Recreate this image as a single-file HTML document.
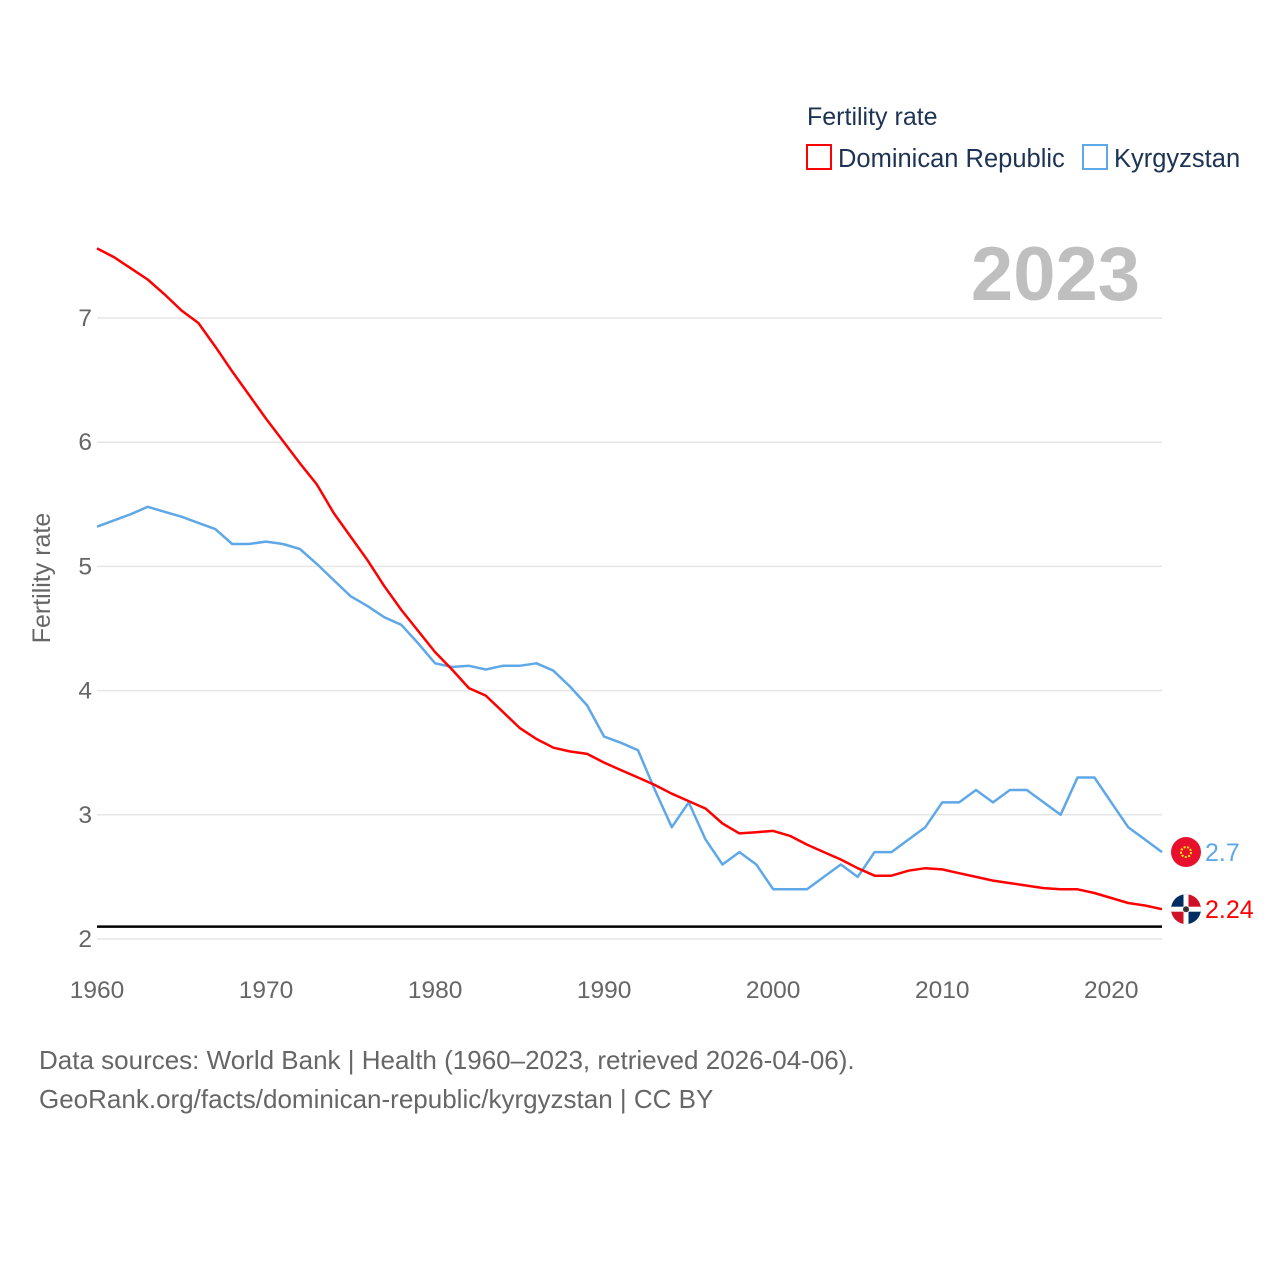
<!DOCTYPE html>
<html><head><meta charset="utf-8"><style>
html,body{margin:0;padding:0;background:#fff;}
svg text{font-family:"Liberation Sans",sans-serif;}
</style></head><body>
<svg id="chart" width="1280" height="1280" viewBox="0 0 1280 1280" xmlns="http://www.w3.org/2000/svg">
<text x="807" y="125" font-size="25" fill="#1d3354">Fertility rate</text>
<rect x="807" y="145" width="24" height="24" fill="none" stroke="#ff0000" stroke-width="2"/>
<text x="838" y="167" font-size="25.5" fill="#1d3354">Dominican Republic</text>
<rect x="1083" y="145" width="24" height="24" fill="none" stroke="#5fa8e8" stroke-width="2"/>
<text x="1114" y="167" font-size="25.5" fill="#1d3354">Kyrgyzstan</text>
<text x="1140" y="300" font-size="76" font-weight="bold" fill="#bfbfbf" text-anchor="end">2023</text>
<text transform="translate(50,578) rotate(-90)" font-size="25" fill="#666" text-anchor="middle">Fertility rate</text>
<g id="grid"></g><g id="series"></g><g id="labels"></g>
<text x="39" y="1069" font-size="26" fill="#666">Data sources: World Bank | Health (1960–2023, retrieved 2026-04-06).</text>
<text x="39" y="1108" font-size="26" fill="#666">GeoRank.org/facts/dominican-republic/kyrgyzstan | CC BY</text>
</svg>
<script>
const years = [];for(let y=1960;y<=2023;y++)years.push(y);
const dominicanRepublic = [7.56,7.49,7.40,7.31,7.19,7.06,6.96,6.77,6.57,6.38,6.19,6.01,5.83,5.66,5.43,5.24,5.05,4.84,4.65,4.48,4.31,4.17,4.02,3.96,3.83,3.70,3.61,3.54,3.51,3.49,3.42,3.36,3.30,3.24,3.17,3.11,3.05,2.93,2.85,2.86,2.87,2.83,2.76,2.70,2.64,2.57,2.51,2.51,2.55,2.57,2.56,2.53,2.50,2.47,2.45,2.43,2.41,2.40,2.40,2.37,2.33,2.29,2.27,2.24];
const kyrgyzstan = [5.32,5.37,5.42,5.48,5.44,5.40,5.35,5.30,5.18,5.18,5.20,5.18,5.14,5.02,4.89,4.76,4.68,4.59,4.53,4.38,4.22,4.19,4.20,4.17,4.20,4.20,4.22,4.16,4.03,3.88,3.63,3.58,3.52,3.20,2.90,3.10,2.80,2.60,2.70,2.60,2.40,2.40,2.40,2.50,2.60,2.50,2.70,2.70,2.80,2.90,3.10,3.10,3.20,3.10,3.20,3.20,3.10,3.00,3.30,3.30,3.10,2.90,2.80,2.70];
const yTicks = [2,3,4,5,6,7];
const xTicks = [1960,1970,1980,1990,2000,2010,2020];
const replacementLevel = 2.1;
const NS="http://www.w3.org/2000/svg";
const X0=97,X1=1162,Y7=318,Y2=939;
const xs=y=>X0+(y-1960)*(X1-X0)/63;
const ys=v=>Y2-(v-2)*(Y2-Y7)/5;
function mk(tag,parent,attrs){const e=document.createElementNS(NS,tag);for(const k in attrs)e.setAttribute(k,attrs[k]);document.getElementById(parent).appendChild(e);return e;}
yTicks.forEach(t=>{
 const l=mk('line','grid',{x1:X0,x2:X1,y1:ys(t),y2:ys(t),stroke:'#e6e6e6','stroke-width':1.5});
 
 
 const tx=mk('text','grid',{x:92,y:ys(t)+8,'font-size':24.5,fill:'#666','text-anchor':'end'});tx.textContent=t;
 
 
});
xTicks.forEach(t=>{
 const tx=mk('text','grid',{x:xs(t),y:998,'font-size':24.5,fill:'#666','text-anchor':'middle'});tx.textContent=t;
 
 
});
const ref=mk('line','grid',{x1:X0,x2:X1,y1:ys(replacementLevel),y2:ys(replacementLevel),stroke:'#000','stroke-width':2.5});


function path(vals){return vals.map((v,i)=>(i?'L':'M')+xs(years[i]).toFixed(1)+','+ys(v).toFixed(1)).join('');}
const pk=mk('path','series',{d:path(kyrgyzstan),fill:'none',stroke:'#5fa8e8','stroke-width':2.5,'stroke-linejoin':'round'});


const pd=mk('path','series',{d:path(dominicanRepublic),fill:'none',stroke:'#ff0000','stroke-width':2.5,'stroke-linejoin':'round'});


const lk=kyrgyzstan[kyrgyzstan.length-1], ld=dominicanRepublic[dominicanRepublic.length-1];
const fk=mk('circle','labels',{cx:1186,cy:ys(lk),r:15,fill:'#e8112d'});


const fks=mk('circle','labels',{cx:1186,cy:ys(lk),r:5,fill:'none',stroke:'#ffef00','stroke-width':2,'stroke-dasharray':'2 1.5'});


const g=mk('g','labels',{});


const cy=ys(ld);
g.innerHTML=`<clipPath id="cc"><circle cx="1186" cy="${cy}" r="15"/></clipPath><g clip-path="url(#cc)"><rect x="1171" y="${cy-15}" width="15" height="15" fill="#002d62"/><rect x="1186" y="${cy-15}" width="15" height="15" fill="#ce1126"/><rect x="1171" y="${cy}" width="15" height="15" fill="#ce1126"/><rect x="1186" y="${cy}" width="15" height="15" fill="#002d62"/><rect x="1171" y="${cy-2.5}" width="30" height="5" fill="#fff"/><rect x="1183.5" y="${cy-15}" width="5" height="30" fill="#fff"/><circle cx="1186" cy="${cy}" r="3" fill="#333"/></g>`;
const tk=mk('text','labels',{x:1205,y:ys(lk)+9,'font-size':25,fill:'#5fa8e8'});tk.textContent=lk;


const td=mk('text','labels',{x:1205,y:ys(ld)+9,'font-size':25,fill:'#ff0000'});td.textContent=ld;


</script>
</body></html>
